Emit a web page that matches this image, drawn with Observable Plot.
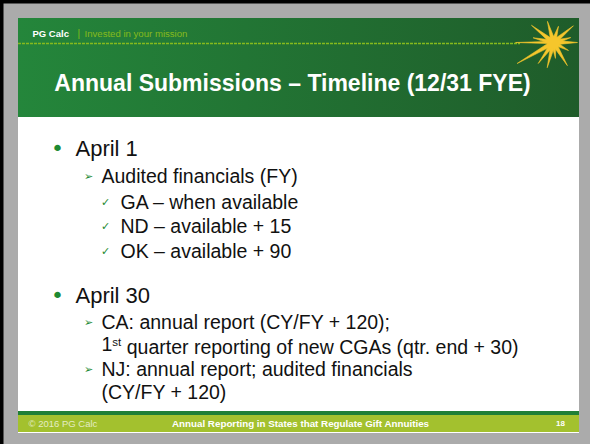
<!DOCTYPE html>
<html><head><meta charset="utf-8">
<script src="https://cdn.jsdelivr.net/npm/d3@7"></script>
<script src="https://cdn.jsdelivr.net/npm/@observablehq/plot@0.6"></script>
<style>html,body{margin:0;padding:0;background:#ababab;overflow:hidden}</style>
</head><body><div id="chart"></div>
<script>
// ---- content ----
const brand = "PG Calc";
const separator = "|";
const tagline = "Invested in your mission";
const title = "Annual Submissions – Timeline (12/31 FYE)";
const lines = [
  "April 1",
  "Audited financials (FY)",
  "GA – when available",
  "ND – available + 15",
  "OK – available + 90",
  "April 30",
  "CA: annual report (CY/FY + 120);",
  "1st quarter reporting of new CGAs (qtr. end + 30)",
  "NJ: annual report; audited financials",
  "(CY/FY + 120)"
];
const levels = [0, 1, 2, 2, 2, 0, 1, 1, 1, 1];
const marked = [true, true, true, true, true, true, true, false, true, false];
const footerLeft = "© 2016 PG Calc";
const footerCenter = "Annual Reporting in States that Regulate Gift Annuities";
const pageNumber = "18";
// starburst rays: angle (deg, clockwise from right) and length
const rayAngles = [218, 254, 287, 320, 344, 0, 28, 59, 83, 104, 126, 150, 180, 193];
const rayLengths = [28, 22, 17, 26, 18, 24, 17, 27, 16, 26, 26, 42, 38, 21];

// ---- layout ----
const W = 590, H = 444;
const slide = {x1: 18, x2: 579, y1: 18, y2: 433};
const headerBottom = 117;
const rowY = [148, 176, 202, 226, 251, 295, 322, 344, 369, 392];
const textX = [75, 101, 120];
const markX = [57, 88, 105];
const markGlyph = ["•", "➢", "✓"];
const markSize = [22, 11, 11];
const textSize = [22, 19.5, 19.5];
const font = "Liberation Sans, Arial, sans-serif";
const green = "#1e8a32";
const star = {x: 553, y: 42};

const rows = lines.map((t, i) => ({t, i, level: levels[i], marked: marked[i], y: rowY[i]}));
const markRows = rows.filter(d => d.marked);

const rayPts = [];
rayAngles.forEach((a, i) => {
  const r = a * Math.PI / 180, L = rayLengths[i], hw = i === 12 ? 1.2 : 2.4;
  const px = -Math.sin(r) * hw, py = Math.cos(r) * hw;
  rayPts.push({id: i, x: star.x + px, y: star.y + py});
  rayPts.push({id: i, x: star.x + Math.cos(r) * L, y: star.y + Math.sin(r) * L});
  rayPts.push({id: i, x: star.x - px, y: star.y - py});
});

const box = (x1, x2, y1, y2, fill) => Plot.rect([{x1, x2, y1, y2}], {x1: "x1", x2: "x2", y1: "y1", y2: "y2", fill, inset: 0});

const chart = Plot.plot({
  width: W, height: H, margin: 0,
  x: {domain: [0, W], range: [0, W], axis: null},
  y: {domain: [0, H], range: [0, H], axis: null},
  style: {background: "#ababab", fontFamily: font},
  marks: [
    box(0, 3.5, 0, H, "#000"),
    box(0, W, 0, 3.5, "#000"),
    box(slide.x1, slide.x2, slide.y1, slide.y2, "#ffffff"),
    box(slide.x1, slide.x2, slide.y1, headerBottom, "url(#hdrGrad)"),
    // header rule
    Plot.ruleY([43], {x1: slide.x1, x2: 520, stroke: "#86ba1c", strokeWidth: 1.6, strokeDasharray: "3 1"}),
    Plot.line(rayPts, {x: "x", y: "y", z: "id", fill: "#f5c62c", stroke: "#f5c62c", strokeWidth: 0.6, curve: "linear-closed"}),
    Plot.dot([star], {x: "x", y: "y", r: 6, fill: "#f5c62c"}),
    // header texts
    Plot.text([brand], {x: 32, y: 33, text: d => d, textAnchor: "start", lineAnchor: "middle", fill: "#ffffff", fontWeight: "bold", fontSize: 9.5}),
    Plot.text([separator], {x: 77, y: 33, text: d => d, textAnchor: "start", lineAnchor: "middle", fill: "#86ba1c", fontSize: 10}),
    Plot.text([tagline], {x: 84, y: 33, text: d => d, textAnchor: "start", lineAnchor: "middle", fill: "#86ba1c", fontSize: 9.6}),
    Plot.text([title], {x: 292, y: 83, text: d => d, textAnchor: "middle", lineAnchor: "middle", fill: "#ffffff", fontWeight: "bold", fontSize: 23}),
    // body
    Plot.text(markRows, {x: d => markX[d.level], y: "y", text: d => markGlyph[d.level], textAnchor: "middle", lineAnchor: "middle", fill: green, fontSize: d => markSize[d.level], fontFamily: "DejaVu Sans"}),
    Plot.text(rows, {x: d => textX[d.level], y: "y", text: "t", textAnchor: "start", lineAnchor: "middle", fill: "#111111", fontSize: d => textSize[d.level]}),
    // footer
    box(slide.x1, slide.x2, 411, 415, "#1f7f36"),
    box(slide.x1, slide.x2, 415, 432, "#a3c12e"),
    Plot.text([footerLeft], {x: 28, y: 423.5, text: d => d, textAnchor: "start", lineAnchor: "middle", fill: "#e4ecc4", fontSize: 9.5}),
    Plot.text([footerCenter], {x: 300, y: 423.5, text: d => d, textAnchor: "middle", lineAnchor: "middle", fill: "#ffffff", fontWeight: "bold", fontSize: 9.8}),
    Plot.text([pageNumber], {x: 560, y: 422.5, text: d => d, textAnchor: "middle", lineAnchor: "middle", fill: "#ffffff", fontWeight: "bold", fontSize: 8})
  ]
});

// gradient definition for the header band
const svg = d3.select(chart);
const defs = svg.insert("defs", ":first-child");
const g = defs.append("linearGradient").attr("id", "hdrGrad").attr("x1", "0").attr("x2", "1").attr("y1", "0").attr("y2", "0");
g.append("stop").attr("offset", "0").attr("stop-color", "#24863b");
g.append("stop").attr("offset", "1").attr("stop-color", "#1f5c2a");

// superscript ordinal
svg.selectAll("text").each(function () {
  const el = d3.select(this);
  const txt = this.textContent;
  if (txt.startsWith("1st quarter")) {
    el.text("");
    el.append("tspan").text("1");
    el.append("tspan").attr("dy", "-0.45em").attr("font-size", "11.5").text("st");
    el.append("tspan").attr("dy", "0.45em").text(txt.slice(3));
  }
});

document.getElementById("chart").appendChild(chart);
</script>
</body></html>
